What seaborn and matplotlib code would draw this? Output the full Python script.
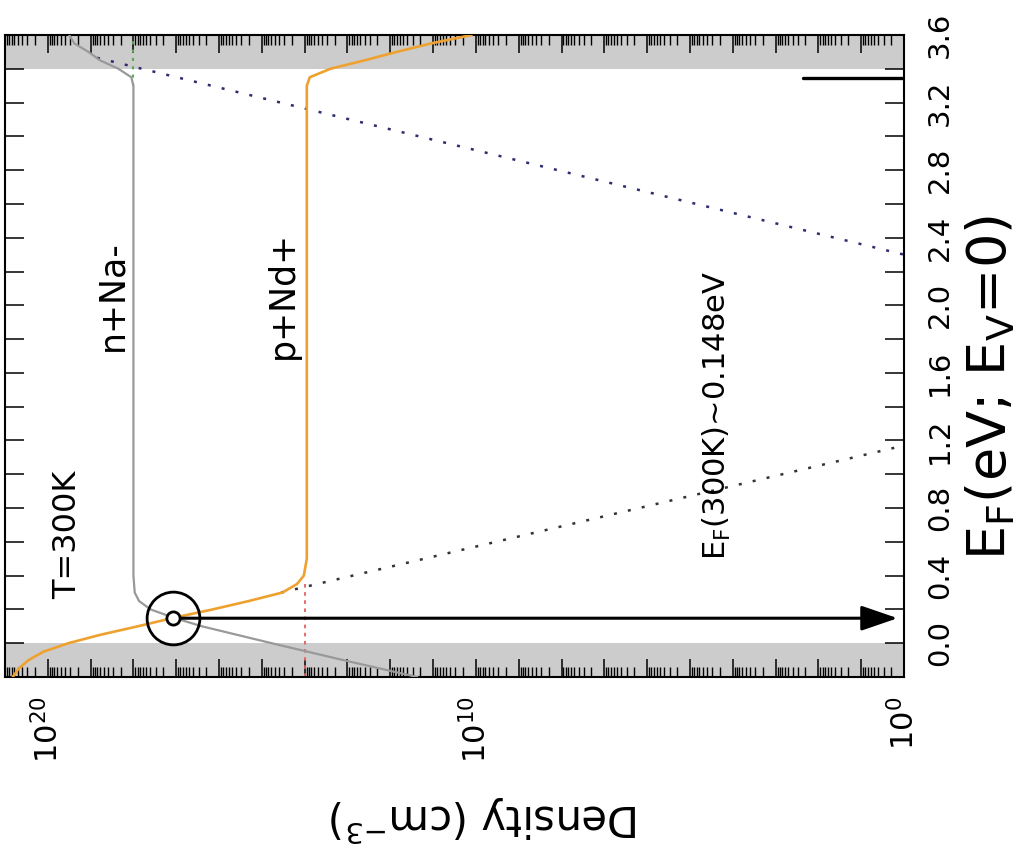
import numpy as np
import pandas as pd
import matplotlib
matplotlib.use("Agg")
import matplotlib.pyplot as plt
import seaborn as sns
from matplotlib.ticker import LogLocator, FuncFormatter

# ---------------- data (E in eV, density as log10 of cm^-3) ----------------
E_MIN, E_MAX = -0.2, 3.6          # Fermi level range
E_VB, E_CB = 0.0, 3.4             # band edges (shaded outside)
LOGD_MIN, LOGD_MAX = 0.0, 21.0    # density axis (log10)

# n + Na-  (grey)
E_nNa = [-0.20, -0.10, 0.00, 0.10, 0.15, 0.20, 0.25, 0.30, 0.40, 3.30, 3.35, 3.40, 3.45, 3.50, 3.55, 3.60]
logD_nNa = [11.37, 13.10, 14.77, 16.40, 17.05, 17.60, 17.87, 17.97, 18.00, 18.00, 18.05, 18.35, 18.78, 19.05, 19.38, 19.50]

# p + Nd+  (orange)
E_pNd = [-0.20, -0.15, -0.10, -0.05, 0.00, 0.05, 0.10, 0.15, 0.20, 0.25, 0.30, 0.35, 0.40, 0.50,
         3.30, 3.35, 3.40, 3.45, 3.50, 3.55, 3.60]
logD_pNd = [20.82, 20.68, 20.45, 20.10, 19.52, 18.77, 17.90, 17.07, 16.15, 15.30, 14.52, 14.18, 14.02, 13.95,
            13.95, 13.88, 13.40, 12.60, 11.85, 11.05, 10.10]

# hole density p (black dotted) and electron density n (blue dotted), non-degenerate
E_p = [0.30, 1.17]
logD_p = [14.55, 0.0]
E_n = [3.465, 2.30]
logD_n = [18.85, 0.0]

# ionised acceptor / donor levels (green / red dotted)
E_Na = [3.30, 3.60]
logD_Na = [18.0, 18.0]
E_Nd = [-0.20, 0.36]
logD_Nd = [14.0, 14.0]

# short black bar near the conduction band
E_bar = [3.345, 3.345]
logD_bar = [2.35, 0.0]

# equilibrium Fermi level at 300 K
EF_300K = 0.148
logD_EF = 17.07
logD_arrow_end = 0.15

E_TICKS = [round(-0.2 + 0.2 * i, 1) for i in range(20)]
E_TICK_LABELS = [f"{v:.1f}" if (i % 2 == 1) else "" for i, v in enumerate(E_TICKS)]
DENS_LABEL_DECADES = [0, 10, 20]

# ---------------- style ----------------
sns.set_theme(style="white")
plt.rcParams["font.family"] = ["DejaVu Sans"]
plt.rcParams["mathtext.default"] = "regular"
plt.rcParams["text.color"] = "black"
plt.rcParams["xtick.color"] = "black"
plt.rcParams["ytick.color"] = "black"
plt.rcParams["xtick.labelcolor"] = "black"
plt.rcParams["ytick.labelcolor"] = "black"

fig = plt.figure(figsize=(10.29, 8.56), dpi=100)
ax = fig.add_axes([5 / 1029, 1 - 677 / 856, 899 / 1029, 642 / 856])

# band shading
ax.axhspan(E_MIN, E_VB, color="#cccccc", lw=0, zorder=0)
ax.axhspan(E_CB, E_MAX, color="#cccccc", lw=0, zorder=0)


def frame(E, logD):
    return pd.DataFrame({"E": E, "D": 10 ** np.asarray(logD, dtype=float)})


dot = (0, (1.2, 4.5))
sns.lineplot(data=frame(E_n, logD_n), x="D", y="E", sort=False, estimator=None,
             color="#2c2c6e", lw=1.8, linestyle=dot, ax=ax, zorder=2)
sns.lineplot(data=frame(E_p, logD_p), x="D", y="E", sort=False, estimator=None,
             color="#333333", lw=1.8, linestyle=dot, ax=ax, zorder=2)
sns.lineplot(data=frame(E_Na, logD_Na), x="D", y="E", sort=False, estimator=None,
             color="#55aa55", lw=1.5, linestyle=(0, (1.5, 2.5)), ax=ax, zorder=2)
sns.lineplot(data=frame(E_Nd, logD_Nd), x="D", y="E", sort=False, estimator=None,
             color="#e06060", lw=1.3, linestyle=(0, (2, 2.5)), ax=ax, zorder=2)
sns.lineplot(data=frame(E_nNa, logD_nNa), x="D", y="E", sort=False, estimator=None,
             color="#999999", lw=1.6, ax=ax, zorder=3)
sns.lineplot(data=frame(E_pNd, logD_pNd), x="D", y="E", sort=False, estimator=None,
             color="#efa12f", lw=1.9, ax=ax, zorder=3)
sns.lineplot(data=frame(E_bar, logD_bar), x="D", y="E", sort=False, estimator=None,
             color="black", lw=2.4, ax=ax, zorder=3)

# arrow from crossing point to the density axis
ax.annotate("", xy=(10 ** logD_arrow_end, EF_300K), xytext=(10 ** logD_EF, EF_300K),
            arrowprops=dict(arrowstyle="-|>,head_length=1.6,head_width=0.55", color="black",
                            lw=2.2, mutation_scale=14, shrinkA=0, shrinkB=0), zorder=4)
ax.plot([10 ** logD_EF], [EF_300K], marker="o", ms=38, mfc="none", mec="black", mew=2.0, zorder=5)
ax.plot([10 ** logD_EF], [EF_300K], marker="o", ms=9.5, mfc="white", mec="black", mew=2.0, zorder=6)

# axes
ax.set_xscale("log")
ax.set_xlim(10 ** LOGD_MAX, 10 ** LOGD_MIN)
ax.set_ylim(E_MIN, E_MAX)
ax.set_xlabel("")
ax.set_ylabel("")

ax.xaxis.set_major_locator(LogLocator(base=10, numticks=60))
ax.xaxis.set_minor_locator(LogLocator(base=10, subs=np.arange(2, 10), numticks=60))


def dens_fmt(v, pos):
    k = int(round(np.log10(v)))
    return f"$10^{{{k}}}$" if k in DENS_LABEL_DECADES else ""


ax.xaxis.set_major_formatter(FuncFormatter(dens_fmt))
ax.set_yticks(E_TICKS)
ax.set_yticklabels(E_TICK_LABELS)

ax.tick_params(axis="both", which="both", direction="in", top=True, bottom=True,
               left=True, right=True, labelleft=False, labelright=True,
               labelbottom=True, labeltop=False, color="black", labelcolor="black")
ax.tick_params(axis="x", which="major", length=13, width=1.1, labelsize=22, pad=14,
               labelrotation=90)
ax.tick_params(axis="x", which="minor", length=7, width=1.0)
ax.tick_params(axis="y", which="major", length=13.5, width=1.1, labelsize=21, pad=16,
               labelrotation=90)
for lbl in ax.get_yticklabels():
    lbl.set_verticalalignment("center")
for lbl in ax.get_xticklabels():
    lbl.set_horizontalalignment("center")
    lbl.set_verticalalignment("top")

for s in ax.spines.values():
    s.set_visible(True)
    s.set_color("black")
    s.set_linewidth(1.5)

# axis titles (rotated like the reference)
fig.text(485 / 1029, 1 - 793 / 856, "Density (cm$^{-3}$)", rotation=180, fontsize=30,
         ha="center", va="top", color="black")
fig.text(990 / 1029, 1 - 387 / 856, "$E_F$(eV; $E_V$=0)", rotation=90, fontsize=39,
         ha="center", va="center", color="black")

# annotations
ax.text(10 ** 18.5, 2.06, "n+Na-", rotation=90, fontsize=25, ha="center", va="center", color="black")
ax.text(10 ** 14.5, 2.06, "p+Nd+", rotation=90, fontsize=25, ha="center", va="center", color="black")
ax.text(10 ** 19.53, 0.64, "T=300K", rotation=90, fontsize=23, ha="center", va="center", color="black")
ax.text(10 ** 4.36, 0.493, "$E_F$(300K)~0.148eV", rotation=90, fontsize=22,
        ha="center", va="bottom", color="black")

fig.savefig("out.png", dpi=100)
